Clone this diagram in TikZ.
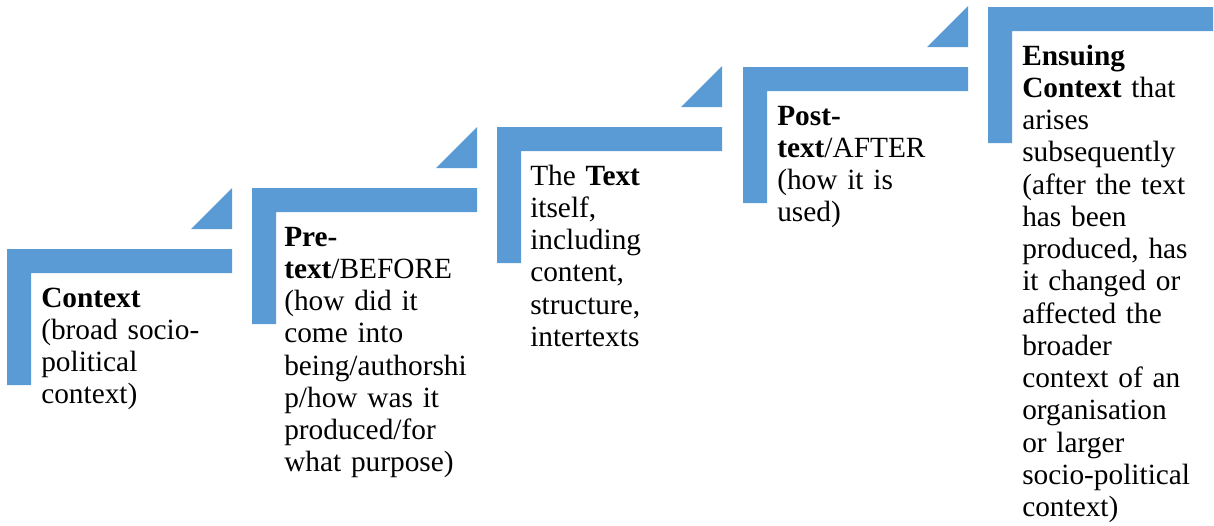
\documentclass[tikz,border=0pt]{standalone}
\usepackage{fontspec}
\setmainfont{Liberation Serif}
\begin{document}
\definecolor{stepblue}{HTML}{5B9BD5}
\begin{tikzpicture}[x=0.75pt,y=-0.75pt,
  stepshape/.style={fill=stepblue,draw=none},
  steplabel/.style={anchor=base west,inner sep=0pt,text width=150pt,align=left,
    font=\fontsize{22pt}{24.2pt}\selectfont}]
\useasboundingbox (0,0) rectangle (1214,525);
% one bent step per stage: top bar, left leg, and a corner triangle leading to the next
\foreach \x/\y/\tri in {7/249/1,252/188/1,497/127/1,743/67/1,988/7/0}{
  \fill[stepshape] (\x,\y) -- ++(225,0) -- ++(0,24) -- ++(-201,0) -- ++(0,112) -- ++(-24,0) -- cycle;
  \ifnum\tri=1
    \fill[stepshape] (\x+225,\y-20) -- (\x+225,\y-61) -- (\x+184,\y-20) -- cycle;
  \fi
}
\node[steplabel] (t1) at (41,307) {\textbf{Context}\\(broad socio-\\political\\context)};
\node[steplabel] (t2) at (284,246) {\textbf{Pre-}\\\textbf{text}/BEFORE\\(how did it\\come into\\being/authorshi\\p/how was it\\produced/for\\what purpose)};
\node[steplabel] (t3) at (530,185) {The \textbf{Text}\\itself,\\including\\content,\\structure,\\intertexts};
\node[steplabel] (t4) at (777,125) {\textbf{Post-}\\\textbf{text}/AFTER\\(how it is\\used)};
\node[steplabel] (t5) at (1022,65) {\textbf{Ensuing}\\\textbf{Context} that\\arises\\subsequently\\(after the text\\has been\\produced, has\\it changed or\\affected the\\broader\\context of an\\organisation\\or larger\\socio-political\\context)};
\end{tikzpicture}
\end{document}
